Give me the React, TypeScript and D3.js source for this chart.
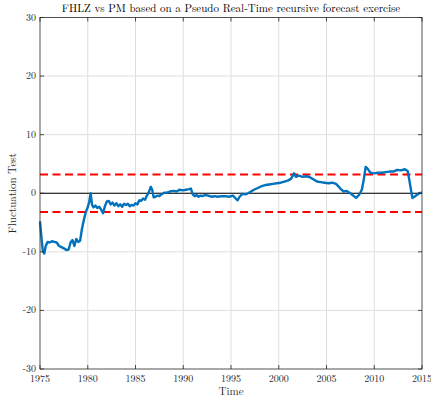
import React from 'react';
import * as d3 from 'd3';

// decimal year of each observation and fluctuation test statistic
const years = [
  1975.0, 1975.15, 1975.3, 1975.45, 1975.6, 1975.8, 1976.0, 1976.25, 1976.5, 1976.75,
  1977.0, 1977.25, 1977.5, 1977.75, 1978.0, 1978.2, 1978.4, 1978.6, 1978.8, 1979.0,
  1979.2, 1979.4, 1979.6, 1979.8, 1980.0, 1980.15, 1980.3, 1980.45, 1980.6, 1980.8,
  1981.0, 1981.2, 1981.4, 1981.6, 1981.8, 1982.0, 1982.2, 1982.4, 1982.6, 1982.8,
  1983.0, 1983.2, 1983.4, 1983.6, 1983.8, 1984.0, 1984.2, 1984.4, 1984.6, 1984.8,
  1985.0, 1985.2, 1985.4, 1985.6, 1985.8, 1986.0, 1986.2, 1986.4, 1986.6, 1986.75,
  1986.9, 1987.1, 1987.3, 1987.5, 1987.7, 1988.0, 1988.3, 1988.6, 1989.0, 1989.3,
  1989.6, 1990.0, 1990.3, 1990.6, 1990.8, 1991.0, 1991.2, 1991.4, 1991.6, 1991.8,
  1992.0, 1992.3, 1992.6, 1993.0, 1993.3, 1993.6, 1994.0, 1994.4, 1994.8, 1995.2,
  1995.5, 1995.7, 1995.9, 1996.2, 1996.5, 1996.8, 1997.1, 1997.4, 1997.8, 1998.2,
  1998.6, 1999.0, 1999.4, 1999.8, 2000.2, 2000.6, 2001.0, 2001.3, 2001.6, 2001.8,
  2002.1, 2002.5, 2002.9, 2003.3, 2003.7, 2004.0, 2004.4, 2004.8, 2005.2, 2005.6,
  2006.0, 2006.3, 2006.5, 2006.8, 2007.1, 2007.5, 2007.8, 2008.1, 2008.4, 2008.7,
  2008.9, 2009.1, 2009.3, 2009.6, 2010.0, 2010.4, 2010.8, 2011.2, 2011.6, 2012.0,
  2012.4, 2012.8, 2013.2, 2013.5, 2013.7, 2013.85, 2014.0, 2014.2, 2014.45, 2014.7,
  2015.0,
];
const values = [
  -4.8, -7.5, -9.9, -10.3, -9.0, -8.3, -8.4, -8.2, -8.3, -8.4,
  -9.0, -9.2, -9.4, -9.7, -9.6, -8.4, -8.0, -9.0, -7.8, -8.3,
  -8.1, -6.0, -4.5, -3.2, -2.4, -1.5, 0.0, -2.0, -2.4, -2.1,
  -2.5, -2.3, -2.8, -3.4, -2.2, -1.4, -1.3, -1.9, -1.6, -2.1,
  -1.7, -2.2, -1.9, -2.3, -1.8, -2.0, -1.8, -2.2, -2.0, -2.1,
  -1.7, -1.9, -1.2, -1.3, -0.9, -1.1, -0.4, 0.2, 1.1, 0.6,
  -0.7, -0.6, -0.4, -0.5, -0.2, 0.1, 0.1, 0.3, 0.4, 0.3,
  0.6, 0.5, 0.6, 0.7, 0.8, -0.2, -0.5, -0.3, -0.6, -0.4,
  -0.5, -0.3, -0.4, -0.6, -0.5, -0.6, -0.5, -0.5, -0.6, -0.4,
  -0.9, -1.2, -0.6, -0.1, -0.2, 0.0, 0.3, 0.6, 0.9, 1.2,
  1.4, 1.5, 1.6, 1.7, 1.8, 2.0, 2.2, 2.5, 3.4, 2.8,
  3.0, 2.8, 2.9, 2.7, 2.3, 2.0, 1.9, 1.8, 1.7, 1.8,
  1.6, 1.1, 0.7, 0.3, 0.4, 0.0, -0.4, -0.8, -0.3, 0.6,
  2.3, 4.5, 4.2, 3.5, 3.4, 3.5, 3.5, 3.6, 3.7, 3.7,
  4.0, 3.9, 4.1, 3.8, 2.0, 0.5, -0.8, -0.6, -0.3, 0.0,
  0.1,
];
const criticalValue = 3.2;
const xTicks = [1975, 1980, 1985, 1990, 1995, 2000, 2005, 2010, 2015];
const yTicks = [-30, -20, -10, 0, 10, 20, 30];

const W = 431;
const H = 403;
const m = { left: 40, right: 9, top: 17.5, bottom: 34 };
const font = '"Latin Modern Roman", "Liberation Serif", serif';

export default function App() {
  const x = d3.scaleLinear().domain([1975, 2015]).range([m.left, W - m.right]);
  const y = d3.scaleLinear().domain([-30, 30]).range([H - m.bottom, m.top]);
  const pts = years.map((yr, i) => [yr, values[i]] as [number, number]);
  const line = d3.line<[number, number]>().x(d => x(d[0])).y(d => y(d[1]))(pts) || '';
  const x0 = x(1975), x1 = x(2015), y0 = y(-30), y1 = y(30);

  return (
    <svg width={W} height={H} style={{ position: 'absolute', left: 0, top: 0, background: '#fff' }}>
      {/* grid */}
      {xTicks.slice(1, -1).map(t => (
        <line key={'gx' + t} x1={x(t)} x2={x(t)} y1={y1} y2={y0} stroke="#dedede" strokeWidth={1} />
      ))}
      {yTicks.slice(1, -1).map(t => (
        <line key={'gy' + t} x1={x0} x2={x1} y1={y(t)} y2={y(t)} stroke="#dedede" strokeWidth={1} />
      ))}

      {/* zero line and critical values */}
      <line x1={x0} x2={x1} y1={y(0)} y2={y(0)} stroke="#000" strokeWidth={1} />
      {[criticalValue, -criticalValue].map(c => (
        <line key={c} x1={x0} x2={x1} y1={y(c)} y2={y(c)} stroke="#ff0000" strokeWidth={2.2} strokeDasharray="8,4.5" />
      ))}

      <path d={line} fill="none" stroke="#0072BD" strokeWidth={2.4} strokeLinejoin="round" />

      {/* box and ticks */}
      <rect x={x0} y={y1} width={x1 - x0} height={y0 - y1} fill="none" stroke="#262626" strokeWidth={0.8} />
      {xTicks.map(t => (
        <g key={'tx' + t}>
          <line x1={x(t)} x2={x(t)} y1={y0} y2={y0 - 4} stroke="#262626" strokeWidth={0.8} />
          <line x1={x(t)} x2={x(t)} y1={y1} y2={y1 + 4} stroke="#262626" strokeWidth={0.8} />
          <text x={x(t)} y={y0 + 12.5} textAnchor="middle" fontFamily={font} fontSize={10} fill="#262626">{t}</text>
        </g>
      ))}
      {yTicks.map(t => (
        <g key={'ty' + t}>
          <line x1={x0} x2={x0 + 4} y1={y(t)} y2={y(t)} stroke="#262626" strokeWidth={0.8} />
          <line x1={x1} x2={x1 - 4} y1={y(t)} y2={y(t)} stroke="#262626" strokeWidth={0.8} />
          <text x={x0 - 4} y={y(t) + 3} textAnchor="end" fontFamily={font} fontSize={10} fill="#262626">{t}</text>
        </g>
      ))}

      <text x={(x0 + x1) / 2} y={395} textAnchor="middle" fontFamily={font} fontSize={11} fill="#262626">Time</text>
      <text transform={`translate(16,${(y0 + y1) / 2}) rotate(-90)`} textAnchor="middle" fontFamily={font} fontSize={11} fill="#262626">Fluctuation Test</text>
      <text x={(x0 + x1) / 2} y={12} textAnchor="middle" fontFamily={font} fontSize={11} fill="#000">
        FHLZ vs PM based on a Pseudo Real-Time recursive forecast exercise
      </text>
    </svg>
  );
}
